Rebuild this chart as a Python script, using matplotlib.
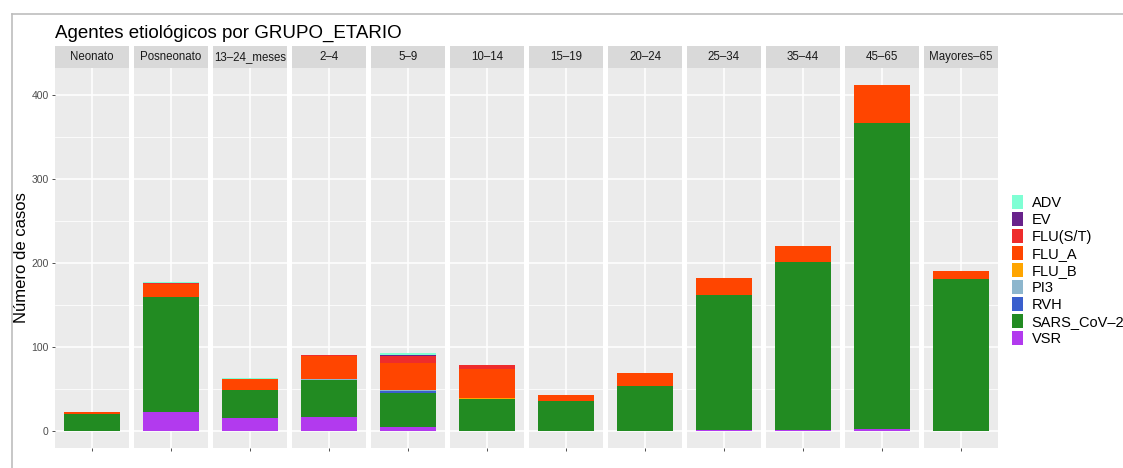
import matplotlib
matplotlib.use("Agg")
import matplotlib.pyplot as plt
from matplotlib.patches import Patch
from matplotlib.lines import Line2D

plt.rcParams['font.family'] = ['Liberation Sans', 'DejaVu Sans']

grupos = ["Neonato", "Posneonato", "13\u201324_meses", "2\u20134", "5\u20139", "10\u201314",
          "15\u201319", "20\u201324", "25\u201334", "35\u201344", "45\u201365", "Mayores\u201365"]

# casos por agente, en el orden de los grupos
VSR = [0, 22, 15, 16, 4, 0, 0, 0, 1, 1, 2, 0]
SARS_CoV_2 = [20, 137, 33, 44, 41, 38, 35, 53, 161, 200, 364, 181]
RVH = [0, 0, 0, 0, 2, 0, 0, 0, 0, 0, 0, 0]
PI3 = [0, 0, 0, 1, 1, 0, 0, 0, 0, 0, 0, 0]
FLU_B = [0, 0, 0, 0, 0, 1, 0, 0, 0, 0, 0, 0]
FLU_A = [2, 15, 14, 28, 32, 35, 7, 16, 20, 19, 45, 9]
FLU_ST = [0, 2, 0, 1, 9, 4, 0, 0, 0, 0, 0, 0]
EV = [0, 0, 0, 0, 1, 0, 0, 0, 0, 0, 0, 0]
ADV = [0, 1, 1, 0, 2, 0, 0, 0, 0, 0, 0, 0]

agentes = ["ADV", "EV", "FLU(S/T)", "FLU_A", "FLU_B", "PI3", "RVH", "SARS_CoV\u20132", "VSR"]
colores = ["#7FFFD4", "#68228B", "#EE2C2C", "#FF4500", "#FFA500",
           "#8DB6CD", "#3A5FCD", "#228B22", "#B23AEE"]
series = [ADV, EV, FLU_ST, FLU_A, FLU_B, PI3, RVH, SARS_CoV_2, VSR]

W, H = 1123, 468
fig = plt.figure(figsize=(W / 100, H / 100), dpi=100)

# marco gris de la captura
fig.add_artist(Line2D([12 / W, 1], [1 - 13.5 / H, 1 - 13.5 / H], color="#BDBDBD", lw=1.2))
fig.add_artist(Line2D([12 / W, 12 / W], [0, 1 - 13.5 / H], color="#BDBDBD", lw=1.2))

ymax = max(sum(s[i] for s in series) for i in range(len(grupos)))
ylo, yhi = -0.05 * ymax, 1.05 * ymax

top, bottom = 68, 448
for i, g in enumerate(grupos):
    left = 55 + i * 79
    ax = fig.add_axes([left / W, 1 - bottom / H, 74 / W, (bottom - top) / H])
    ax.set_facecolor("#EBEBEB")
    for sp in ax.spines.values():
        sp.set_visible(False)
    ax.set_xlim(0.4, 1.6)
    ax.set_ylim(ylo, yhi)
    ax.set_yticks([0, 100, 200, 300, 400])
    ax.set_yticks([50, 150, 250, 350], minor=True)
    ax.set_xticks([1])
    ax.set_xticklabels([""])
    ax.grid(which="major", color="white", lw=1.1)
    ax.grid(which="minor", axis="y", color="white", lw=0.55)
    ax.set_axisbelow(True)
    ax.tick_params(axis="x", length=2.5, width=0.6, color="#333333")
    ax.tick_params(axis="y", which="minor", length=0)
    if i == 0:
        ax.tick_params(axis="y", length=2.5, width=0.6, color="#333333",
                       labelsize=7.5, labelcolor="#4D4D4D", pad=2)
    else:
        ax.tick_params(axis="y", length=0, labelleft=False)

    base = 0
    for s, c in zip(series[::-1], colores[::-1]):
        if s[i] > 0:
            ax.bar(1, s[i], width=0.9, bottom=base, color=c, edgecolor="none")
            base += s[i]

    sx = fig.add_axes([left / W, 1 - top / H, 74 / W, 22 / H])
    sx.set_facecolor("#D9D9D9")
    sx.set_xticks([])
    sx.set_yticks([])
    for sp in sx.spines.values():
        sp.set_visible(False)
    sx.text(0.5, 0.5, g, ha="center", va="center", fontsize=8.3, color="#1A1A1A",
            transform=sx.transAxes)

fig.text(55 / W, 1 - 38 / H, "Agentes etiológicos por GRUPO_ETARIO", fontsize=13.5,
         ha="left", va="baseline", color="black")
fig.text(22 / W, 1 - 258 / H, "Número de casos", rotation=90, fontsize=12,
         ha="center", va="center", color="black")

handles = [Patch(facecolor=c, edgecolor="none") for c in colores]
fig.legend(handles, agentes, loc="upper left", bbox_to_anchor=(1012 / W, 1 - 195 / H),
           frameon=False, fontsize=10.5, handlelength=0.76, handleheight=1.1,
           labelspacing=0.14, handletextpad=0.6, borderpad=0, borderaxespad=0)

fig.savefig("out.png", dpi=100)
